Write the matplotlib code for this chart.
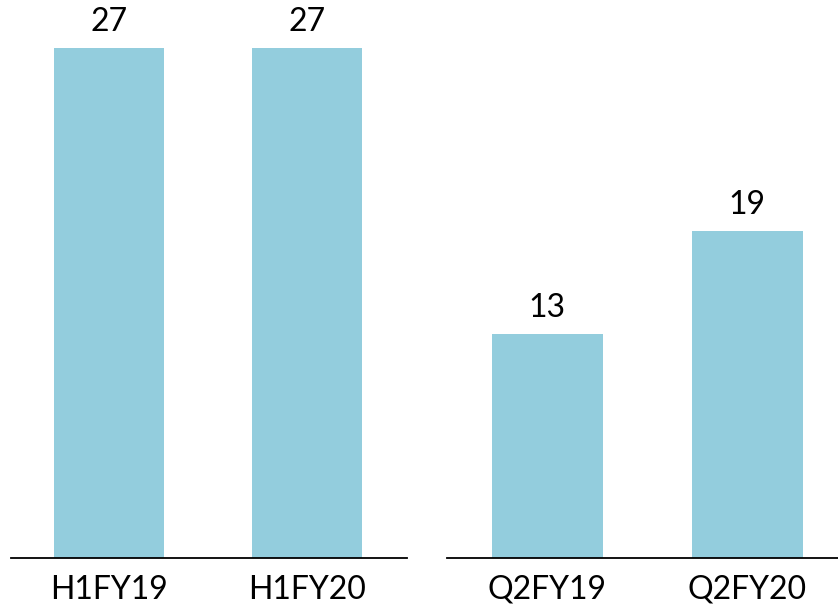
import matplotlib
matplotlib.use("Agg")
import matplotlib.pyplot as plt

left_cats = ["H1FY19", "H1FY20"]
left_vals = [27, 27]
right_cats = ["Q2FY19", "Q2FY20"]
right_vals = [13, 19]

plt.rcParams['font.family'] = ['Lato', 'DejaVu Sans']
color = "#93CDDD"

fig = plt.figure(figsize=(8.38, 6.08), dpi=100)
W, H = 838, 608
base = 558

def make_ax(x0, x1, cats, vals, xlim, ytop):
    ax = fig.add_axes([x0 / W, (H - base) / H, (x1 - x0) / W, base / H])
    xs = list(range(len(cats)))
    bars = ax.bar(xs, vals, width=0.555, color=color)
    ax.set_xlim(*xlim)
    ax.set_ylim(0, ytop)
    for s in ["top", "right", "left"]:
        ax.spines[s].set_visible(False)
    ax.spines["bottom"].set_linewidth(1.3)
    ax.spines["bottom"].set_color("black")
    ax.set_yticks([])
    ax.set_xticks(xs)
    ax.set_xticklabels(cats, fontsize=23)
    ax.tick_params(axis="x", length=0, pad=12)
    for b, v in zip(bars, vals):
        ax.annotate(f"{v:g}", (b.get_x() + b.get_width() / 2, v),
                    xytext=(0, 8), textcoords="offset points",
                    ha="center", va="bottom", fontsize=23)
    return ax

make_ax(11, 407, left_cats, left_vals, (-0.495, 1.505), 27 * 558 / 510)
make_ax(447, 838, right_cats, right_vals, (-0.5, 1.455), 558 / 17.2)

fig.savefig("out.png", dpi=100)
